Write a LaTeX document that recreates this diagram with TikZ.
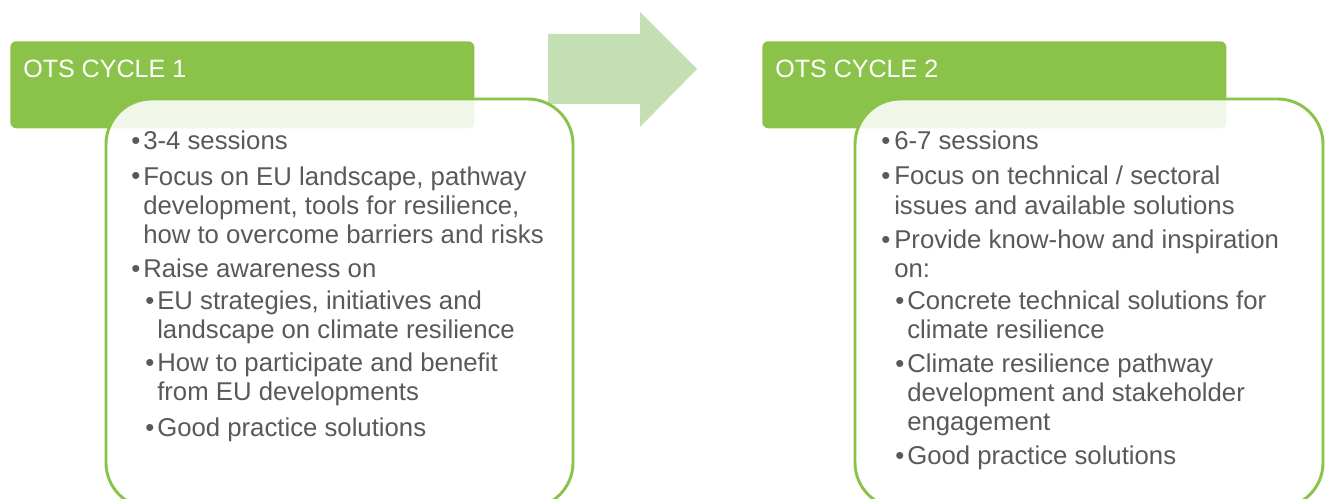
\documentclass[tikz,border=0pt]{standalone}
\usepackage{fontspec}
\setmainfont{Liberation Sans}
\definecolor{hdrgreen}{HTML}{8BC34A}
\definecolor{arrgreen}{HTML}{C5DFB4}
\definecolor{txtgray}{HTML}{595959}
\begin{document}
\begin{tikzpicture}[x=0.75pt,y=-0.75pt,
  hdr/.style={fill=hdrgreen,draw=none,rounded corners=4.5pt},
  body/.style={fill=white,fill opacity=0.88,draw=hdrgreen,line width=2.2pt,draw opacity=1,rounded corners=34pt},
  hdrtxt/.style={anchor=base west,inner sep=0pt,text=white,font=\fontsize{18.8pt}{22pt}\selectfont},
  bul/.style={anchor=base west,inner sep=0pt,text=txtgray,font=\fontsize{19.3pt}{21.75pt}\selectfont},
  itm/.style={anchor=base west,inner sep=0pt,text=txtgray,align=left,font=\fontsize{19.3pt}{21.75pt}\selectfont}]
\useasboundingbox (0,0) rectangle (1330,499);
\clip (0,0) rectangle (1330,499);
% arrow
\fill[arrgreen] (548,34) -- (640,34) -- (640,12) -- (697,69) -- (640,127) -- (640,104) -- (548,104) -- cycle;
% cycle 1
\node[hdr,minimum width=464*0.75pt,minimum height=87*0.75pt,anchor=north west] (h1) at (10,41) {};
\node[hdrtxt] (t1) at (23,78) {OTS CYCLE 1};
\draw[body] (106,99) rectangle (573,508);
\node[bul] (b1a) at (131,150) {•};
\node[itm] (i1a) at (143,150) {3-4 sessions};
\node[bul] (b1b) at (131,185) {•};
\node[itm] (i1b) at (143,243) {Focus on EU landscape, pathway\\development, tools for resilience,\\how to overcome barriers and risks};
\node[bul] (b1c) at (131,277) {•};
\node[itm] (i1c) at (143,277) {Raise awareness on};
\node[bul] (b1d) at (145,309) {•};
\node[itm] (i1d) at (157,338) {EU strategies, initiatives and\\landscape on climate resilience};
\node[bul] (b1e) at (145,371) {•};
\node[itm] (i1e) at (157,400) {How to participate and benefit\\from EU developments};
\node[bul] (b1f) at (145,436) {•};
\node[itm] (i1f) at (157,436) {Good practice solutions};
% cycle 2
\node[hdr,minimum width=464*0.75pt,minimum height=87*0.75pt,anchor=north west] (h2) at (762,41) {};
\node[hdrtxt] (t2) at (775,78) {OTS CYCLE 2};
\draw[body] (855,99) rectangle (1323,508);
\node[bul] (b2a) at (881,150) {•};
\node[itm] (i2a) at (894,150) {6-7 sessions};
\node[bul] (b2b) at (881,185) {•};
\node[itm] (i2b) at (894,214) {Focus on technical / sectoral\\issues and available solutions};
\node[bul] (b2c) at (881,248) {•};
\node[itm] (i2c) at (894,277) {Provide know-how and inspiration\\on:};
\node[bul] (b2d) at (895,309) {•};
\node[itm] (i2d) at (907,338) {Concrete technical solutions for\\climate resilience};
\node[bul] (b2e) at (895,372) {•};
\node[itm] (i2e) at (907,430) {Climate resilience pathway\\development and stakeholder\\engagement};
\node[bul] (b2f) at (895,464) {•};
\node[itm] (i2f) at (907,464) {Good practice solutions};
\end{tikzpicture}
\end{document}
